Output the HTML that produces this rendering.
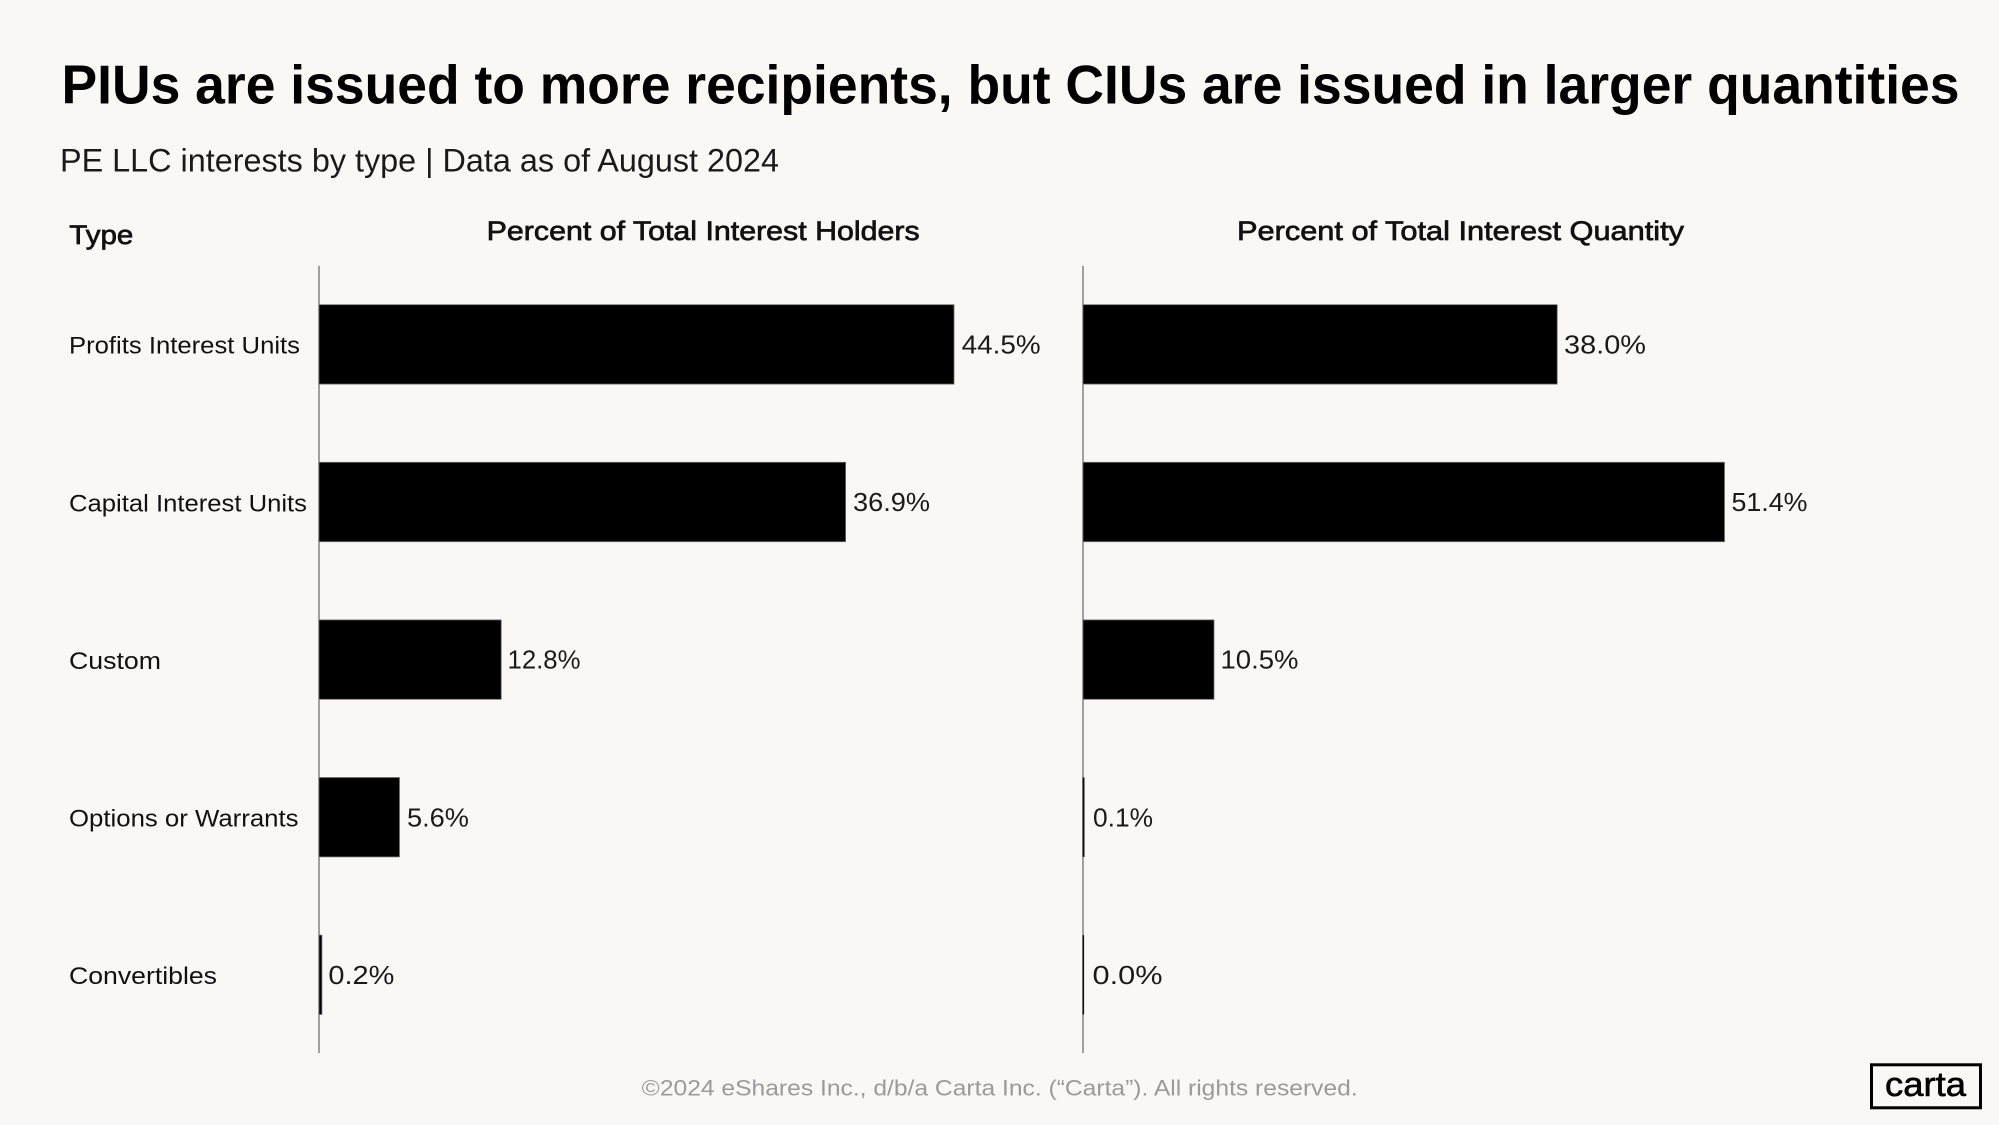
<!DOCTYPE html>
<html>
<head>
<meta charset="utf-8">
<style>
  html, body { margin:0; padding:0; background:#FAF8F4; }
  svg { display:block; }
  text { font-family: "Liberation Sans", sans-serif; }
</style>
</head>
<body>
<svg width="1999" height="1125" viewBox="0 0 1999 1125" xmlns="http://www.w3.org/2000/svg">
  <rect x="0" y="0" width="1999" height="1125" fill="#FAF8F4"/>

  <!-- Title -->
  <text x="61.5" y="103.3" font-size="55" font-weight="bold" fill="#000" textLength="1898" lengthAdjust="spacingAndGlyphs">PIUs are issued to more recipients, but CIUs are issued in larger quantities</text>
  <!-- Subtitle -->
  <text x="60" y="171.7" font-size="32" fill="#1a1a1a" textLength="719" lengthAdjust="spacingAndGlyphs">PE LLC interests by type | Data as of August 2024</text>

  <!-- Headers -->
  <g fill="#111" stroke="#111" stroke-width="0.7">
    <text x="69.3" y="244" font-size="27" textLength="64" lengthAdjust="spacingAndGlyphs">Type</text>
    <text x="486.7" y="240" font-size="27" textLength="433" lengthAdjust="spacingAndGlyphs">Percent of Total Interest Holders</text>
    <text x="1237" y="240" font-size="27" textLength="447" lengthAdjust="spacingAndGlyphs">Percent of Total Interest Quantity</text>
  </g>

  <!-- Category labels -->
  <g font-size="24" fill="#111">
    <text x="69" y="353.7" textLength="231" lengthAdjust="spacingAndGlyphs">Profits Interest Units</text>
    <text x="69" y="511.3" textLength="238" lengthAdjust="spacingAndGlyphs">Capital Interest Units</text>
    <text x="69" y="668.9" textLength="92" lengthAdjust="spacingAndGlyphs">Custom</text>
    <text x="69" y="826.5" textLength="229.5" lengthAdjust="spacingAndGlyphs">Options or Warrants</text>
    <text x="69" y="984.1" textLength="148" lengthAdjust="spacingAndGlyphs">Convertibles</text>
  </g>

  <!-- Axis lines -->
  <line x1="319" y1="265.7" x2="319" y2="1053" stroke="#7a7a7a" stroke-width="1.4"/>
  <line x1="1083" y1="265.7" x2="1083" y2="1053" stroke="#7a7a7a" stroke-width="1.4"/>

  <!-- Left bars -->
  <g fill="#000" stroke="#6e6e6e" stroke-width="0.8">
    <rect x="319" y="304.7" width="635" height="79.4"/>
    <rect x="319" y="462.3" width="526.6" height="79.4"/>
    <rect x="319" y="619.9" width="182.2" height="79.4"/>
    <rect x="319" y="777.5" width="80.5" height="79.4"/>
    <rect x="319" y="935.1" width="2.9" height="79.4"/>
  </g>
  <!-- Right bars -->
  <g fill="#000" stroke="#6e6e6e" stroke-width="0.8">
    <rect x="1083" y="304.7" width="474.2" height="79.4"/>
    <rect x="1083" y="462.3" width="641.5" height="79.4"/>
    <rect x="1083" y="619.9" width="131" height="79.4"/>
  </g>
  <rect x="1082.5" y="777.5" width="2" height="79.4" fill="#111"/>
  <rect x="1082.5" y="935.1" width="1.6" height="79.4" fill="#111"/>

  <!-- Left values -->
  <g font-size="26" fill="#1a1a1a">
    <text x="961.7" y="353.5" textLength="79" lengthAdjust="spacingAndGlyphs">44.5%</text>
    <text x="853" y="511.1" textLength="77" lengthAdjust="spacingAndGlyphs">36.9%</text>
    <text x="507.5" y="668.7" textLength="73" lengthAdjust="spacingAndGlyphs">12.8%</text>
    <text x="407" y="826.3" textLength="62" lengthAdjust="spacingAndGlyphs">5.6%</text>
    <text x="328.4" y="983.9" textLength="66" lengthAdjust="spacingAndGlyphs">0.2%</text>
  </g>
  <!-- Right values -->
  <g font-size="26" fill="#1a1a1a">
    <text x="1564" y="353.5" textLength="82" lengthAdjust="spacingAndGlyphs">38.0%</text>
    <text x="1731.5" y="511.1" textLength="76" lengthAdjust="spacingAndGlyphs">51.4%</text>
    <text x="1220.5" y="668.7" textLength="78" lengthAdjust="spacingAndGlyphs">10.5%</text>
    <text x="1093" y="826.3" textLength="60" lengthAdjust="spacingAndGlyphs">0.1%</text>
    <text x="1092.5" y="983.9" textLength="70" lengthAdjust="spacingAndGlyphs">0.0%</text>
  </g>

  <!-- Footer -->
  <text x="641.7" y="1095.7" font-size="22.5" fill="#9a9a9a" textLength="716" lengthAdjust="spacingAndGlyphs">©2024 eShares Inc., d/b/a Carta Inc. (“Carta”). All rights reserved.</text>

  <!-- Logo -->
  <rect x="1871.5" y="1064.8" width="109" height="43" fill="none" stroke="#000" stroke-width="3"/>
  <text x="1885" y="1096" font-size="34" fill="#000" stroke="#000" stroke-width="0.6" textLength="81" lengthAdjust="spacingAndGlyphs">carta</text>
</svg>
</body>
</html>
